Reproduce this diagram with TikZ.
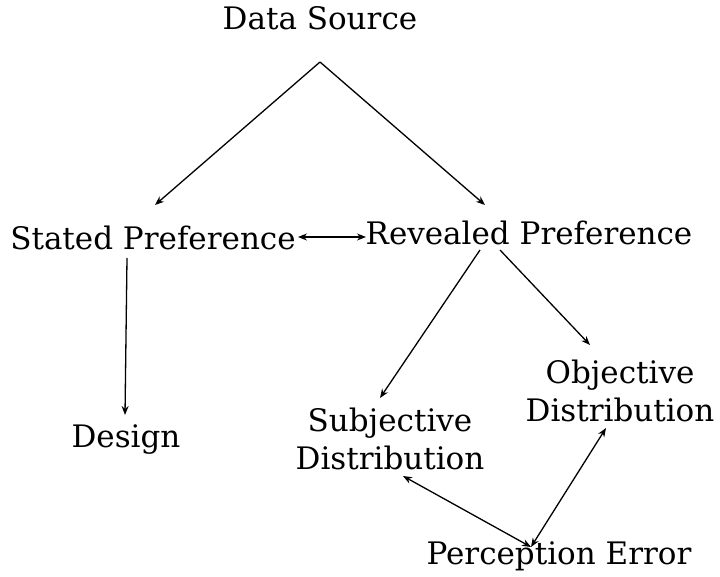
\documentclass[tikz,border=0pt]{standalone}
\usepackage{fontspec}
\setmainfont{DejaVu Serif}
\usetikzlibrary{arrows.meta,calc}
\begin{document}
\begin{tikzpicture}[x=1pt,y=-1pt,
  lab/.style={font=\fontsize{31}{38}\selectfont,inner sep=0pt,align=center},
  tip/.tip={Stealth[length=9pt,width=7pt]},
  conn/.style={line width=1.3pt,-tip},
  twoway/.style={line width=1.3pt,tip-tip}]
\useasboundingbox (0,0) rectangle (720,577);
\node[lab] (ds) at (320,18) {Data Source};
\node[lab] (sp) at (153,238) {Stated Preference};
\node[lab] (rp) at (529,233) {Revealed Preference};
\node[lab] (de) at (126,440) {Design};
\node[lab] (sd) at (390,439) {Subjective\\Distribution};
\node[lab] (od) at (620,391) {Objective\\Distribution};
\node[lab] (pe) at (559,556) {Perception Error};
% top split
\coordinate (top) at ($(ds)+(0,44)$);
\draw[conn] (top) -- ($(sp)+(2,-33)$);
\draw[conn] (top) -- ($(rp)+(-44,-28)$);
% stated <-> revealed
\draw[twoway] ($(sp)+(145,-1)$) -- ($(rp)+(-163,4)$);
% stated preference branch
\draw[conn] ($(sp)+(-26,20)$) -- ($(de)+(-1,-25)$);
% revealed preference branches
\draw[conn] ($(rp)+(-49,17)$) -- ($(sd)+(-10,-41)$);
\draw[conn] ($(rp)+(-29,17)$) -- ($(od)+(-30,-46)$);
% distributions <-> perception error
\coordinate (pe top) at ($(pe)+(-28,-9)$);
\draw[twoway] ($(sd)+(13,37)$) -- (pe top);
\draw[twoway] ($(od)+(-14,37)$) -- (pe top);
\end{tikzpicture}
\end{document}
